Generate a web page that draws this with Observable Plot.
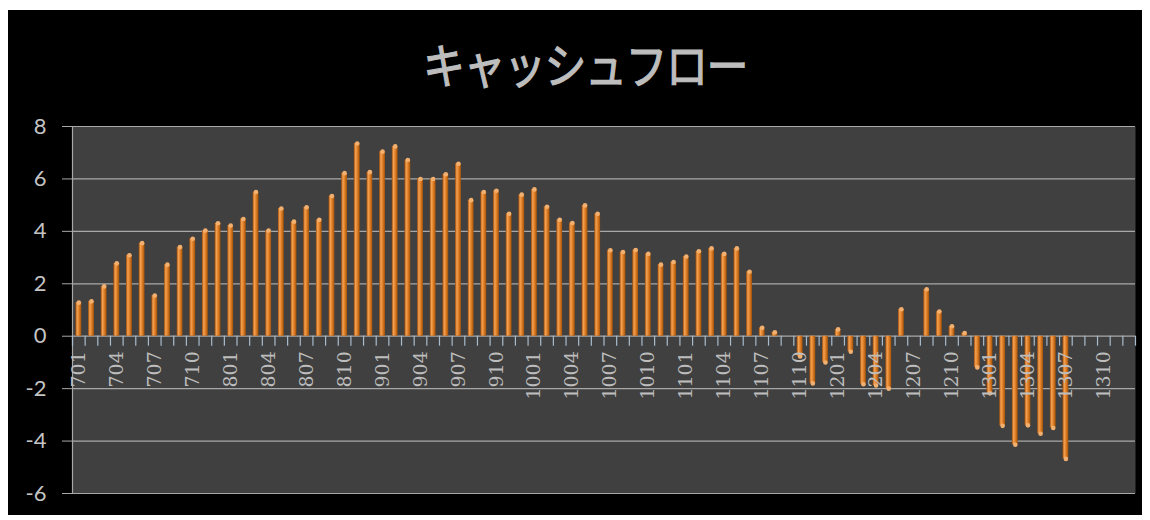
<!DOCTYPE html>
<html>
<head>
<meta charset="utf-8">
<script src="https://cdn.jsdelivr.net/npm/d3@7"></script>
<script src="https://cdn.jsdelivr.net/npm/@observablehq/plot@0.6"></script>
<style>
  html, body { margin: 0; padding: 0; background: #ffffff; }
  #chart {
    position: absolute; left: 8px; top: 10px; width: 1134px; height: 505px;
    background: #000000; overflow: hidden;
  }
  #title {
    height: 100px; display: flex; align-items: center; justify-content: center;
    font-family: "Noto Sans CJK JP", sans-serif; font-size: 42px; font-weight: 400; color: #bdbdbd;
    -webkit-text-stroke: 1px #bdbdbd;
    padding-left: 20px; box-sizing: border-box; letter-spacing: -1.5px;
  }
  #title span { display: inline-block; transform: scaleY(1.15); margin-top: 4px; }
  svg { display: block; }
</style>
</head>
<body>
<div id="chart"><div id="title"><span>キャッシュフロー</span></div></div>
<script>
// Years (2-digit) and months used to build the category labels (YYMM style, e.g. 701 = 2007-01)
const years = [7, 8, 9, 10, 11, 12, 13];
const months = [1, 2, 3, 4, 5, 6, 7, 8, 9, 10, 11, 12];
const categories = years.flatMap(y => months.map(m => `${y}${String(m).padStart(2, "0")}`));

// Monthly cash-flow values (null = no bar)
const values2007 = [1.28, 1.33, 1.90, 2.78, 3.09, 3.55, 1.55, 2.73, 3.40, 3.72, 4.03, 4.31];
const values2008 = [4.22, 4.47, 5.50, 4.03, 4.87, 4.37, 4.92, 4.44, 5.35, 6.22, 7.35, 6.26];
const values2009 = [7.04, 7.24, 6.72, 6.00, 6.00, 6.18, 6.58, 5.19, 5.50, 5.55, 4.67, 5.40];
const values2010 = [5.60, 4.94, 4.44, 4.32, 4.99, 4.67, 3.28, 3.21, 3.29, 3.14, 2.73, 2.83];
const values2011 = [3.04, 3.24, 3.35, 3.14, 3.35, 2.46, 0.32, 0.15, 0, -0.77, -1.80, -1.00];
const values2012 = [0.26, -0.59, -1.83, -1.88, -2.00, 1.03, 0, 1.79, 0.94, 0.38, 0.12, -1.19];
const values2013 = [-2.18, -3.42, -4.14, -3.40, -3.72, -3.50, -4.68, null, null, null, null, null];
const values = [...values2007, ...values2008, ...values2009, ...values2010, ...values2011, ...values2012, ...values2013];

const yTicks = [-6, -4, -2, 0, 2, 4, 6, 8];
const labelStep = 3;

const data = categories.map((c, i) => ({i, c, v: values[i]}));
const bars = data.filter(d => d.v !== null && d.v !== 0);
const labels = data.filter(d => d.i % labelStep === 0);
const boundaries = d3.range(0, categories.length + 1);

const svg = Plot.plot({
  width: 1134,
  height: 405,
  marginLeft: 64,
  marginRight: 7,
  marginTop: 16,
  marginBottom: 22,
  style: {background: "transparent", color: "#c0c0c0", overflow: "visible"},
  x: {domain: [0, categories.length], axis: null},
  y: {domain: [-6, 8], axis: null},
  marks: [
    Plot.frame({fill: "#404040", stroke: null}),
    Plot.ruleY(yTicks, {stroke: "#a8a8a8", strokeWidth: 1.2}),
    Plot.ruleX([0], {stroke: "#a8a8a8", strokeWidth: 1.2}),
    Plot.axisY({
      ticks: yTicks, tickSize: 10, tickPadding: 16, tickFormat: d => String(d), label: null,
      fontSize: 22, fontFamily: "Lato, 'Open Sans', sans-serif", stroke: "#a8a8a8", fill: "#c4c4c4"
    }),
    Plot.ruleX(boundaries, {y1: 0, y2: -0.38, stroke: "#a9bccd", strokeWidth: 1.2}),
    Plot.rectY(bars, {
      x1: "i", x2: d => d.i + 1, y: "v",
      insetLeft: 3.4, insetRight: 3.4, fill: "url(#barGrad)"
    }),
    Plot.dot(bars, {x: d => d.i + 0.5, y: "v", r: 2.3, fill: "#f2b070", stroke: null}),
    Plot.text(labels, {
      x: d => d.i + 0.5, y: d => 0, text: "c", rotate: -90,
      textAnchor: "end", lineAnchor: "middle", dy: 15,
      fontSize: 19, fontFamily: "'DejaVu Serif', serif", fill: "#bdbdbd"
    })
  ]
});

d3.select(svg).insert("defs", ":first-child").html(`
  <linearGradient id="barGrad" x1="0" x2="1" y1="0" y2="0">
    <stop offset="0" stop-color="#9a4a08"/>
    <stop offset="0.3" stop-color="#f3a254"/>
    <stop offset="0.55" stop-color="#e6852c"/>
    <stop offset="1" stop-color="#a45208"/>
  </linearGradient>`);

document.getElementById("chart").appendChild(svg);
</script>
</body>
</html>
